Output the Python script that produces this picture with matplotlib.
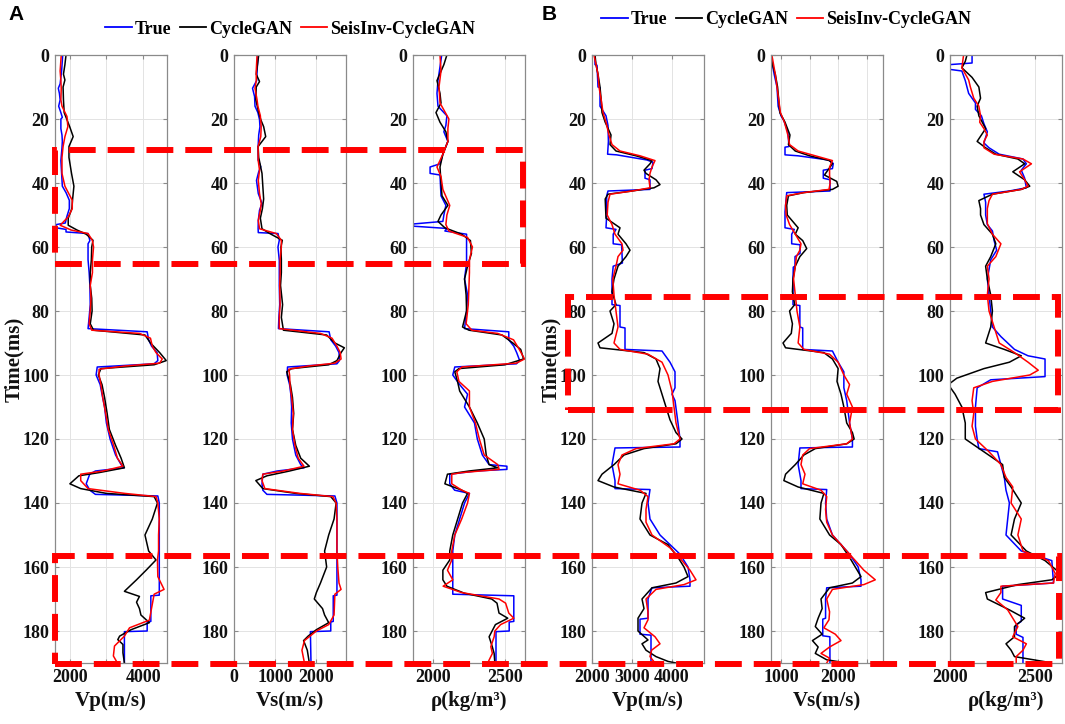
import matplotlib
matplotlib.use("Agg")
import matplotlib.pyplot as plt
from matplotlib.patches import Rectangle
from matplotlib.lines import Line2D

# ---------------- data (time ms, value) ----------------
A_VP_TRUE = [(0,1810),(5,1780),(9,1740),(10.4,1690),(12,1720),(14,1740),(16,1700),(18,1760),(19.5,1800),(20,1760),(23,1760),(25,1790),(27,1800),(29,1790),(33,1760),(37,1780),(41,1800),(43,1900),(45.4,1990),(48,1990),(50.6,1920),(52.5,1880),(53,1630),(54,1630),(54.5,1900),(55.3,1900),(55.8,2500),(58,2550),(59,2500),(64,2500),(68,2530),(72,2550),(78,2560),(82,2530),(85.5,2500),(86.5,4110),(89,4150),(91,4230),(93,4380),(95.5,4400),(96.5,4300),(97.5,2750),(100,2720),(103,2830),(106,2880),(110,2950),(115,3000),(120,3100),(125,3250),(128,3400),(129,3480),(130,2700),(131,2545),(134,2450),(136,2550),(137.3,2700),(137.8,4400),(140,4440),(150,4440),(160,4440),(168.8,4440),(169,4210),(177,4210),(177.2,4110),(180,4110),(180.2,3490),(190,3490)]
A_VP_CYC = [(0,1900),(3,1870),(6,1830),(7.8,1870),(10,1820),(14,1830),(18,1850),(22.4,2000),(25.5,2095),(28.6,1980),(32,1980),(37,2050),(41,2115),(45,2080),(48,2060),(51,1960),(53.2,1960),(54.7,2200),(56,2450),(57.9,2635),(60,2600),(64,2590),(68,2560),(72,2560),(76,2600),(80,2610),(84,2560),(86,2650),(87.5,4050),(90,4200),(93,4450),(95.5,4630),(96.8,4300),(98,2850),(100,2780),(103,2880),(107,2950),(112,3020),(117,3080),(122,3250),(126,3400),(129,3490),(130.5,2800),(131.5,2250),(134,2005),(135.5,2300),(137,3000),(138,4300),(140,4390),(145,4250),(150,4050),(155,4150),(157.8,4350),(160.9,4090),(164,3820),(167.6,3490),(169.2,3900),(171,3820),(173,3900),(175,3940),(177.4,4170),(179.6,3670),(181.6,3360),(182.7,3310),(184.2,3450),(186.8,3450),(190,3490)]
A_VP_SEIS = [(0,1770),(5,1740),(8,1760),(10.4,1770),(14,1760),(16,1790),(19.2,1925),(22.4,1950),(25.5,1870),(28.6,1820),(32,1790),(37,1790),(41,1870),(45.4,2070),(48,2070),(50.6,1960),(53.2,1740),(54.7,2040),(55.8,2500),(58,2620),(60,2650),(64,2620),(68,2620),(72,2560),(76,2580),(80,2560),(84,2530),(86,2600),(87,3900),(88.5,4200),(91,4250),(93,4350),(95,4520),(96.3,4450),(97.2,3500),(98.2,2800),(100,2800),(103,2850),(107,2900),(112,2980),(117,3050),(122,3200),(126,3300),(128.5,3450),(130,2900),(131,2300),(133,2300),(135.5,2500),(137,3500),(138,4350),(140,4400),(145,4440),(150,4420),(155,4420),(157.8,4390),(163,4400),(167,4570),(168.5,4300),(176.6,4170),(179,3630),(181.6,3490),(184.7,3220),(187.8,3190),(190,3300)]

A_VS_TRUE = [(0,586),(5,560),(8,550),(10.4,450),(13,500),(16,510),(18,580),(20.2,620),(22.4,630),(25,600),(28.6,586),(32.8,586),(34.9,650),(36.5,600),(39.2,546),(43.3,590),(46.4,680),(48.5,620),(51.7,590),(54.3,586),(55.5,590),(55.8,1070),(57.9,1100),(60,1068),(64.2,1100),(68.3,1100),(72,1100),(78,1110),(82,1090),(85.5,1080),(86.5,2310),(89,2350),(91,2470),(93,2550),(95.5,2560),(96.5,2500),(97.5,1300),(100,1290),(103,1350),(106,1380),(110,1400),(115,1390),(120,1420),(125,1500),(128,1620),(129,1700),(130,1050),(131,700),(134,680),(136,700),(137.3,800),(137.8,2450),(140,2500),(160,2500),(168.8,2500),(169,2410),(177,2410),(177.2,2350),(180,2350),(180.2,1855),(190,1870)]
A_VS_CYC = [(0,600),(3,570),(6,540),(8.3,620),(10,540),(14,530),(18,600),(20.2,650),(22.4,720),(25.5,770),(28.6,586),(32,600),(37,680),(41,700),(45,720),(48,690),(51,640),(54.3,680),(55.8,870),(57.9,1173),(60,1140),(64,1150),(68,1150),(72,1130),(78,1180),(82,1150),(86,1200),(87.5,2250),(90,2450),(91.5,2680),(93,2600),(95.5,2500),(96.8,2300),(98,1400),(99,1280),(103,1370),(107,1420),(112,1450),(117,1420),(122,1500),(126,1620),(128.5,1830),(130,1350),(131.5,800),(133,530),(135.5,700),(137,1500),(138,2350),(140,2480),(145,2430),(150,2300),(155,2200),(160,2250),(165,2100),(168,2000),(170,1950),(173,2150),(175,2200),(177.4,2300),(179.6,2000),(181.6,1800),(183,1690),(186,1780),(190,1830)]
A_VS_SEIS = [(0,560),(5,540),(8,540),(10.4,510),(14,560),(16,580),(19,640),(22.4,660),(25.5,650),(28.6,586),(32.8,586),(36,620),(39.2,590),(43.3,620),(46.4,660),(48.5,640),(51.7,590),(54.3,620),(55.8,1028),(57.9,1150),(60,1150),(64,1120),(68,1120),(72,1110),(78,1120),(82,1100),(85.5,1100),(87,2100),(88.5,2380),(91,2500),(93,2580),(95,2600),(96.3,2450),(97.2,1800),(98.2,1330),(100,1350),(103,1360),(107,1400),(112,1440),(117,1420),(122,1480),(126,1560),(128.5,1700),(130,1200),(131,700),(133,680),(135.5,750),(137,1600),(138,2400),(140,2480),(145,2500),(150,2500),(155,2500),(160,2520),(165,2550),(167,2600),(168.5,2450),(175,2430),(178,2300),(180,2000),(183,1711),(186,1650),(190,1711)]

A_RHO_TRUE = [(0,2060),(8,2034),(12,2027),(16,2034),(19,2096),(22,2089),(24,2075),(27,2103),(31,2068),(34,2048),(35,1979),(37,1979),(37.5,2048),(44,2055),(47,2089),(50,2075),(52,2068),(52.8,1863),(53.5,1863),(54.2,2096),(55,2082),(56,2233),(60,2233),(65,2233),(70,2219),(75,2240),(80,2233),(85.5,2219),(86.5,2527),(89,2527),(91,2562),(93,2582),(95.5,2603),(96.5,2580),(97.5,2151),(100,2137),(103,2185),(106,2240),(110,2219),(115,2288),(120,2308),(125,2343),(128,2390),(128.5,2514),(129.5,2514),(130,2300),(131,2116),(134,2116),(136,2150),(137,2253),(140,2219),(145,2185),(150,2151),(155,2137),(168.5,2137),(169,2562),(177,2562),(177.2,2530),(180,2530),(180.2,2438),(190,2438)]
A_RHO_CYC = [(0,2096),(3,2075),(8,2027),(12,2048),(15,2055),(18,2020),(21,2048),(24,2089),(27,2103),(31,2068),(35,2048),(40,2055),(44,2062),(47,2103),(50,2055),(52,2034),(54,2082),(56,2199),(58,2260),(62,2267),(66,2240),(70,2219),(75,2230),(80,2233),(85,2205),(86,2250),(87.5,2480),(90,2555),(92,2610),(95,2630),(96.8,2500),(98,2180),(99,2151),(102,2170),(105,2185),(110,2253),(115,2308),(120,2356),(125,2370),(128,2390),(129,2450),(130,2250),(131,2100),(134,2082),(136,2200),(137,2240),(140,2205),(145,2171),(150,2137),(155,2116),(157.8,2116),(161,2068),(164,2068),(166,2096),(168.2,2218),(170,2408),(171.3,2445),(174.4,2459),(176,2520),(178,2434),(181.8,2390),(184.9,2412),(187,2425),(190,2430)]
A_RHO_SEIS = [(0,2048),(5,2055),(10,2041),(15,2048),(20,2110),(23,2103),(27,2103),(31,2068),(35,2027),(38,2055),(42,2068),(47,2116),(50,2096),(53,2089),(55,2110),(57,2240),(60,2274),(64,2253),(68,2253),(72,2250),(78,2245),(84,2230),(86,2270),(87,2450),(89,2560),(92,2600),(95,2637),(96.3,2580),(97.5,2200),(99,2165),(102,2180),(105,2253),(110,2253),(115,2295),(120,2322),(125,2356),(128,2450),(129.5,2460),(130.5,2200),(131,2130),(134,2130),(136,2200),(137,2253),(140,2240),(145,2199),(150,2151),(155,2130),(157.8,2130),(161,2100),(164,2137),(166,2070),(168,2200),(170,2459),(171.3,2505),(174.4,2527),(176,2562),(178,2470),(180,2430),(181.8,2425),(184.9,2402),(187,2413),(190,2380)]

B_VP_TRUE = [(0,2075),(3,2075),(3.2,2125),(10,2150),(10.2,2200),(16,2200),(19,2350),(22,2400),(27,2410),(31,2390),(31.2,2615),(32.8,3370),(33.5,3525),(35.5,3500),(36,3325),(38.5,3325),(39,3450),(42,3450),(42.5,2400),(44,2367),(50,2367),(54,2350),(54.5,2600),(56,2530),(59,2530),(59.3,2740),(65,2760),(66,2530),(70,2500),(78,2500),(78.3,2700),(85,2700),(85.3,2825),(92,2825),(92.5,3750),(96,3950),(99,4075),(104,4075),(106,4000),(108,4075),(115,4150),(120,4200),(122.5,4200),(122.8,2575),(128,2500),(133,2575),(135.5,2575),(135.8,3450),(140,3400),(145,3450),(150,3700),(153,3950),(156,4200),(160,4400),(164,4450),(166,4450),(166.5,3500),(170,3400),(176,3400),(176.3,3200),(181,3200),(181.3,3475),(190,3475)]
B_VP_CYC = [(0,2075),(3,2100),(6,2150),(10,2200),(14,2230),(18,2250),(21,2330),(25,2475),(28,2450),(30,2600),(31.5,3100),(33,3500),(34,3450),(36,3300),(37,3350),(39,3600),(40.5,3700),(41.5,3550),(42.5,3000),(43.5,2400),(45,2330),(48,2340),(51,2350),(54,2700),(56,2650),(59,2850),(61,2950),(63,2850),(66,2650),(70,2550),(74,2500),(78,2600),(80,2450),(84,2550),(87,2500),(90,2150),(91.5,2200),(93,3300),(95,3600),(98,3700),(102,3650),(106,3750),(110,3850),(114,3950),(118,4100),(120,4250),(121.5,4100),(123,3300),(125,2800),(128,2550),(131,2250),(133,2150),(135,2550),(137,3350),(140,3250),(145,3200),(150,3450),(153,3900),(157,4150),(160,4300),(163,4400),(165,4100),(166.5,3500),(170,3250),(173,3300),(176,3150),(178,3150),(180,3150),(182.8,3400),(184,3250),(186,3350),(188,3600),(189.5,3900),(190,4100)]
B_VP_SEIS = [(0,2050),(3,2100),(6,2150),(10,2175),(14,2230),(18,2275),(21,2350),(25,2425),(28,2500),(30,2700),(31.5,3200),(33,3575),(35,3500),(37,3450),(39,3425),(41.5,3450),(42.5,3000),(43.5,2450),(46,2400),(50,2380),(53,2500),(56,2575),(59,2750),(61,2775),(63,2650),(66,2600),(70,2520),(75,2550),(80,2600),(85,2650),(90,2550),(92,2700),(93.5,3400),(96,3750),(100,3900),(105,4000),(110,4050),(115,4100),(120,4200),(121.5,4050),(123,3100),(125,2750),(128,2650),(131,2700),(134,2650),(136,3200),(138,3400),(142,3350),(146,3350),(150,3500),(154,3950),(158,4250),(161,4450),(164,4600),(165.5,4300),(167,3600),(170,3350),(174,3400),(176.5,3400),(179,3300),(181.8,3575),(184,3700),(186,3490),(188,3450),(190,3575)]

B_VS_TRUE = [(0,820),(3,850),(6,880),(10,930),(16,950),(19,1000),(20.5,1050),(24,1120),(28.6,1140),(28.8,1070),(31.2,1070),(31.5,1298),(32.8,1828),(33.9,1915),(35.5,1900),(36,1740),(38.5,1740),(39,1858),(42.5,1858),(43,1100),(49,1070),(54,1070),(54.5,1233),(56,1187),(59,1187),(59.3,1333),(62,1333),(63,1245),(66,1245),(66.3,1215),(70,1210),(78,1210),(78.3,1330),(85,1330),(85.3,1380),(92,1380),(92.5,1900),(96,2000),(99,2100),(104,2100),(108,2150),(115,2200),(120,2250),(122.5,2250),(122.8,1330),(128,1300),(133,1350),(135.5,1350),(135.8,1800),(140,1780),(145,1800),(150,1900),(153,2050),(156,2200),(160,2350),(164,2400),(166,2400),(166.5,1800),(170,1780),(176,1780),(176.3,1731),(181.5,1731),(181.8,1855),(190,1857)]
B_VS_CYC = [(0,820),(3,850),(6,900),(10,940),(14,960),(18,980),(21,1070),(25,1157),(28,1130),(30,1250),(31.5,1500),(33,1850),(34,1900),(37.5,1760),(39.5,1975),(41,2000),(42,1900),(43,1400),(44,1130),(47,1100),(50,1110),(54,1300),(56,1250),(58,1380),(60.5,1450),(63,1330),(66,1250),(70,1210),(74,1200),(78,1240),(80,1150),(84,1200),(87,1180),(90,1035),(91.5,1080),(93,1750),(95,1900),(98,2000),(102,1980),(106,2050),(110,2100),(115,2150),(118,2250),(120,2280),(121.5,2150),(123,1600),(125,1400),(128,1250),(131,1080),(133,1050),(135,1300),(137,1750),(140,1700),(145,1680),(150,1850),(153,2050),(157,2200),(160,2300),(163,2400),(165,2250),(166.5,1850),(170,1700),(173,1720),(176,1650),(178.6,1600),(181,1720),(183,1550),(185,1650),(187,1600),(189,1800),(190,2150)]
B_VS_SEIS = [(0,840),(3,870),(6,900),(10,930),(14,960),(18,990),(21,1060),(25,1120),(28,1150),(30,1300),(31.5,1600),(33,1900),(35,1850),(37.5,1850),(40,1860),(42,1840),(43,1400),(44,1100),(47,1080),(50,1090),(53,1150),(56,1250),(59,1350),(61,1330),(63,1270),(66,1250),(70,1220),(75,1250),(80,1280),(85,1330),(90,1300),(92,1400),(93.5,1850),(96,2000),(100,2100),(103,2200),(106,2150),(110,2250),(115,2200),(120,2250),(121.5,2150),(123,1500),(125,1380),(128,1350),(131,1420),(134,1380),(136,1700),(138,1800),(142,1780),(146,1800),(150,1900),(154,2100),(158,2300),(161,2450),(164,2650),(165.5,2450),(167,1900),(170,1800),(174,1850),(176.5,1840),(179,1750),(181,1950),(183,2050),(185,1850),(187,1700),(188.5,1850),(190,1800)]

B_RHO_TRUE = [(0,2130),(2.5,2130),(3,2000),(4.5,2000),(5,2070),(8,2090),(12,2110),(15,2150),(17,2150),(19,2185),(21.5,2200),(24,2220),(27.5,2200),(29,2230),(31,2290),(32.5,2430),(34,2450),(36,2420),(38.5,2440),(41.5,2450),(42.5,2350),(43.5,2200),(46,2210),(50,2210),(53,2220),(55,2250),(58,2260),(61,2275),(64,2240),(67,2230),(70,2220),(75,2230),(80,2240),(85,2250),(88,2300),(92,2380),(94,2460),(95,2560),(100.5,2560),(101.5,2240),(104,2160),(110,2150),(116,2150),(120,2160),(123,2170),(124,2280),(128,2300),(132,2320),(136,2330),(140,2350),(145,2340),(150,2330),(155,2420),(158,2600),(165,2610),(166,2310),(170,2310),(172,2420),(177,2420),(178,2390),(181,2390),(182,2430),(190,2430)]
B_RHO_CYC = [(0,2100),(2,2090),(4,2070),(7,2130),(10,2170),(13.5,2180),(16,2160),(19,2170),(21,2190),(23,2210),(25,2185),(27,2160),(29,2210),(31,2270),(32.5,2400),(34,2440),(36.5,2370),(39,2440),(41,2470),(42,2420),(43.5,2250),(45.5,2170),(48,2180),(50,2180),(53,2200),(56,2250),(59,2270),(63,2240),(66,2210),(70,2220),(75,2240),(80,2250),(85,2240),(90,2210),(92,2320),(94,2420),(96,2350),(98,2200),(101,2040),(103,1990),(106,2030),(110,2070),(115,2090),(120,2090),(124,2200),(128,2310),(132,2320),(135,2360),(140,2420),(145,2380),(150,2360),(155,2450),(158,2560),(162,2650),(164,2600),(165.5,2400),(168,2210),(170,2220),(173.4,2350),(176,2440),(178.6,2380),(181.8,2380),(184,2330),(186,2360),(188,2380),(189.6,2560),(190,2580)]
B_RHO_SEIS = [(0,2080),(2,2075),(4,2070),(7.8,2110),(10,2120),(13.5,2140),(16,2170),(19,2180),(21,2175),(23,2200),(25,2220),(27,2200),(29,2200),(31,2260),(32.5,2430),(34,2480),(36.5,2410),(39,2440),(41,2460),(42,2420),(43.5,2250),(45.5,2230),(48,2220),(52.7,2220),(56,2250),(59,2300),(63,2270),(66,2220),(70,2230),(75,2220),(80,2230),(85,2260),(90,2290),(93,2380),(96,2460),(98.5,2520),(100,2470),(102,2250),(104,2140),(108,2130),(112,2140),(116,2130),(120,2150),(124,2230),(128,2300),(132,2330),(135,2370),(140,2360),(145,2420),(150,2400),(155,2430),(158,2580),(162,2620),(165,2610),(166,2300),(168,2300),(170.3,2270),(173.4,2340),(176,2370),(178.6,2400),(181.8,2370),(184,2450),(186,2430),(188,2390),(190,2390)]

SERIES_NAMES = ["True", "CycleGAN", "SeisInv-CycleGAN"]
SERIES_COLORS = ["#0000ff", "#000000", "#ff0000"]
Y_TICKS = [0, 20, 40, 60, 80, 100, 120, 140, 160, 180]

XLABELS = ["Vp(m/s)", "Vs(m/s)", "ρ(kg/m³)"]

PANELS = [
    # (series list, xlim, xticks, xticklabels)
    ([A_VP_TRUE, A_VP_CYC, A_VP_SEIS], (1600, 4650), [2000, 3000, 4000], ["2000", "", "4000"]),
    ([A_VS_TRUE, A_VS_CYC, A_VS_SEIS], (0, 2720), [0, 1000, 2000], ["0", "1000", "2000"]),
    ([A_RHO_TRUE, A_RHO_CYC, A_RHO_SEIS], (1860, 2640), [2000, 2500], ["2000", "2500"]),
    ([B_VP_TRUE, B_VP_CYC, B_VP_SEIS], (2000, 4800), [2000, 3000, 4000], ["2000", "3000", "4000"]),
    ([B_VS_TRUE, B_VS_CYC, B_VS_SEIS], (825, 2785), [1000, 1500, 2000, 2500], ["1000", "", "2000", ""]),
    ([B_RHO_TRUE, B_RHO_CYC, B_RHO_SEIS], (2000, 2660), [2000, 2500], ["2000", "2500"]),
]

# ---------------- figure ----------------
W, H = 1065, 724
fig = plt.figure(figsize=(W / 100, H / 100), dpi=100)
SERIF = ["Liberation Serif", "DejaVu Serif"]

def fx(px):
    return px / W

def fy(py):
    return 1 - py / H

ax_left_px = [55, 234, 413, 592, 771, 950]
ax_w_px = 112
ax_top, ax_bot = 55, 663

axes = []
for i, (series, xlim, xt, xtl) in enumerate(PANELS):
    ax = fig.add_axes([fx(ax_left_px[i]), fy(ax_bot), ax_w_px / W, (ax_bot - ax_top) / H])
    for s, c in zip(series, SERIES_COLORS):
        t, v = zip(*s)
        ax.plot(v, t, color=c, lw=1.1)
    ax.set_xlim(*xlim)
    ax.set_ylim(190, 0)
    ax.set_xticks(xt)
    ax.set_xticklabels(xtl)
    ax.set_yticks(Y_TICKS)
    ax.grid(True, color="#e3e3e3", lw=0.7)
    ax.set_axisbelow(True)
    for sp in ax.spines.values():
        sp.set_color("#8a8a8a")
        sp.set_linewidth(0.9)
    ax.tick_params(direction="in", top=True, right=True, length=3, color="#8a8a8a",
                   labelsize=13, pad=4, labelcolor="#111111")
    for lab in ax.get_xticklabels() + ax.get_yticklabels():
        lab.set_fontfamily(SERIF)
        lab.set_fontweight("bold")
    ax.set_xlabel(XLABELS[i % 3], fontfamily=SERIF, fontweight="bold", fontsize=15,
                  labelpad=4, color="#111111")
    if i % 3 == 0:
        ax.set_ylabel("Time(ms)", fontfamily=SERIF, fontweight="bold", fontsize=15,
                      labelpad=-1, color="#111111")
    axes.append(ax)

# legends
handles = [Line2D([0], [0], color=c, lw=1.3) for c in SERIES_COLORS]
for cx, cy in [(290, 29), (786, 20)]:
    fig.legend(handles, SERIES_NAMES, loc="center", bbox_to_anchor=(fx(cx), fy(cy)),
               ncol=3, frameon=False, handlelength=1.45, handletextpad=0.15,
               columnspacing=0.5, borderpad=0,
               prop={"family": SERIF, "weight": "bold", "size": 13})

# panel letters
fig.text(fx(16), fy(15), "A", fontsize=15, fontweight="bold", family="Liberation Sans",
         ha="center", va="center")
fig.text(fx(549), fy(15), "B", fontsize=15, fontweight="bold", family="Liberation Sans",
         ha="center", va="center")

# red dashed highlight boxes (pixel coords)
BOXES = [(55, 150, 523, 264), (55, 556, 1059, 664), (568, 297, 1058, 410)]
for x0, y0, x1, y1 in BOXES:
    r = Rectangle((fx(x0), fy(y1)), fx(x1) - fx(x0), fy(y0) - fy(y1),
                  transform=fig.transFigure, fill=False, edgecolor="#ff0000",
                  lw=4.3, linestyle=(0, (4.5, 2.0)), zorder=50, clip_on=False)
    fig.add_artist(r)

fig.savefig("out.png", dpi=100)
